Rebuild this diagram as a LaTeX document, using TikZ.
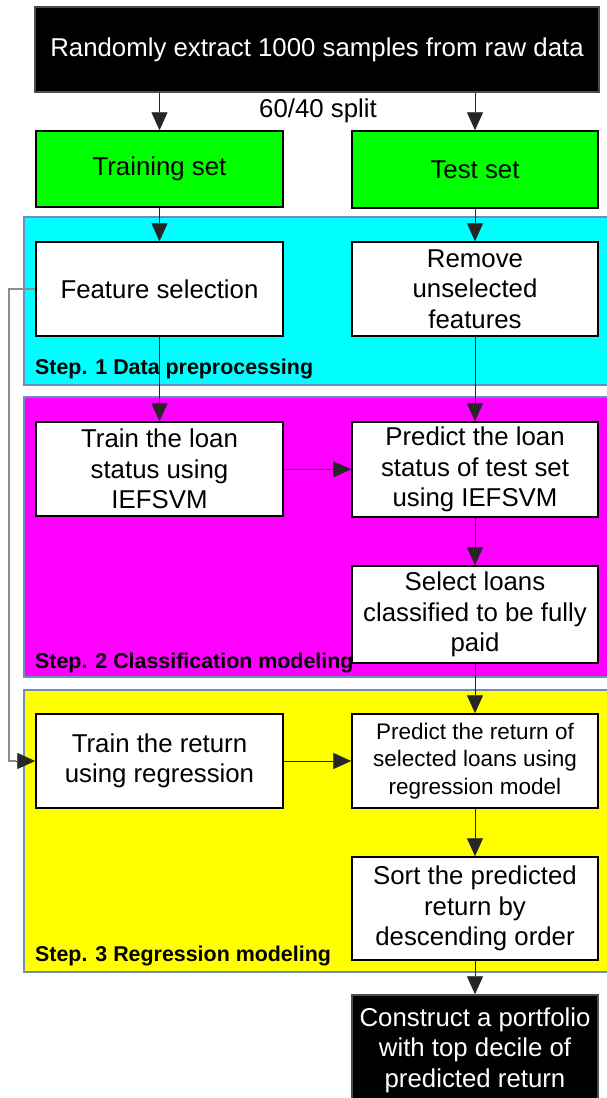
\documentclass[tikz,border=0pt]{standalone}
\usepackage{fontspec}
\setmainfont{Liberation Sans}
\usetikzlibrary{arrows.meta}
\definecolor{regborder}{HTML}{6C8EBF}
\definecolor{loopgray}{HTML}{8C8C8C}
\definecolor{pcyan}{HTML}{00FFFF}
\definecolor{pmagenta}{HTML}{FF00FF}
\definecolor{pyellow}{HTML}{FFFF00}
\definecolor{pgreen}{HTML}{00FF00}
\tikzset{
  box/.style={draw=black, line width=1.5pt, fill=white, align=center, inner sep=2pt,
    font=\fontsize{25.8}{30.5}\selectfont},
  darkbox/.style={box, fill=black, draw=black!70, text=white},
  greenbox/.style={box, fill=pgreen},
  region/.style={draw=regborder, line width=1.5pt},
  steplabel/.style={anchor=west, inner sep=0pt, font=\fontsize{21.4}{24}\selectfont\bfseries},
  conn/.style={draw=black!85, line width=0.9pt, -{Triangle[width=16pt,length=18pt]}},
}
\begin{document}
\begin{tikzpicture}[x=1pt,y=-1pt]
\useasboundingbox (0,0) rectangle (607,1098);
\fill[white] (0,0) rectangle (607,1098);
% regions
\draw[region, fill=pcyan] (24,217) rectangle (612,385);
\draw[region, fill=pmagenta] (24,397) rectangle (612,677);
\draw[region, fill=pyellow] (24,690) rectangle (612,972);
\node[steplabel] (s1) at (35,369) {Step. 1 Data preprocessing};
\node[steplabel] (s2) at (35,663) {Step. 2 Classification modeling};
\node[steplabel] (s3) at (35,956) {Step. 3 Regression modeling};
% nodes
\node[darkbox, minimum width=564, minimum height=85] (raw) at (317,49.5) {Randomly extract 1000 samples from raw data};
\node[font=\fontsize{25.8}{30.5}\selectfont, inner sep=0pt] (split) at (318,111) {60/40 split};
\node[greenbox, minimum width=247, minimum height=76] (train) at (159.5,169) {Training set};
\node[greenbox, minimum width=246, minimum height=77] (test) at (475,169.5) {Test set};
\node[box, minimum width=247, minimum height=94] (feat) at (159.5,289) {Feature selection};
\node[box, minimum width=246, minimum height=94] (remove) at (475,289) {Remove\\unselected\\features};
\node[box, minimum width=247, minimum height=94] (trainloan) at (159.5,469) {Train the loan\\status using\\IEFSVM};
\node[box, minimum width=246, minimum height=95] (predloan) at (475,469.5) {Predict the loan\\status of test set\\using IEFSVM};
\node[box, minimum width=246, minimum height=97] (select) at (475,614.5) {Select loans\\classified to be fully\\paid};
\node[box, minimum width=247, minimum height=94] (trainret) at (159.5,761) {Train the return\\using regression};
\node[box, minimum width=246, minimum height=94, font=\fontsize{22.5}{27.5}\selectfont] (predret) at (475,761) {Predict the return of\\selected loans using\\regression model};
\node[box, minimum width=246, minimum height=103] (sort) at (475,908.5) {Sort the predicted\\return by\\descending order};
\node[darkbox, minimum width=246, minimum height=110] (final) at (475,1050) {Construct a portfolio\\with top decile of\\predicted return};
% connectors
\draw[conn] (raw.south -| train.north) -- (train.north);
\draw[conn] (raw.south -| test.north) -- (test.north);
\draw[conn] (train) -- (feat);
\draw[conn] (test) -- (remove);
\draw[conn] (feat) -- (trainloan);
\draw[conn] (remove) -- (predloan);
\draw[conn] (trainloan) -- (predloan);
\draw[conn] (predloan) -- (select);
\draw[conn] (select) -- (predret);
\draw[conn] (trainret) -- (predret);
\draw[conn] (predret) -- (sort);
\draw[conn] (sort) -- (final);
\coordinate (loopA) at (9,289);
\coordinate (loopB) at (9,761);
\draw[line width=1.2pt, draw=loopgray] (feat.west) -- (loopA) -- (loopB) -- ([xshift=-19pt]trainret.west);
\draw[conn] ([xshift=-19pt]trainret.west) -- (trainret.west);
\end{tikzpicture}
\end{document}
